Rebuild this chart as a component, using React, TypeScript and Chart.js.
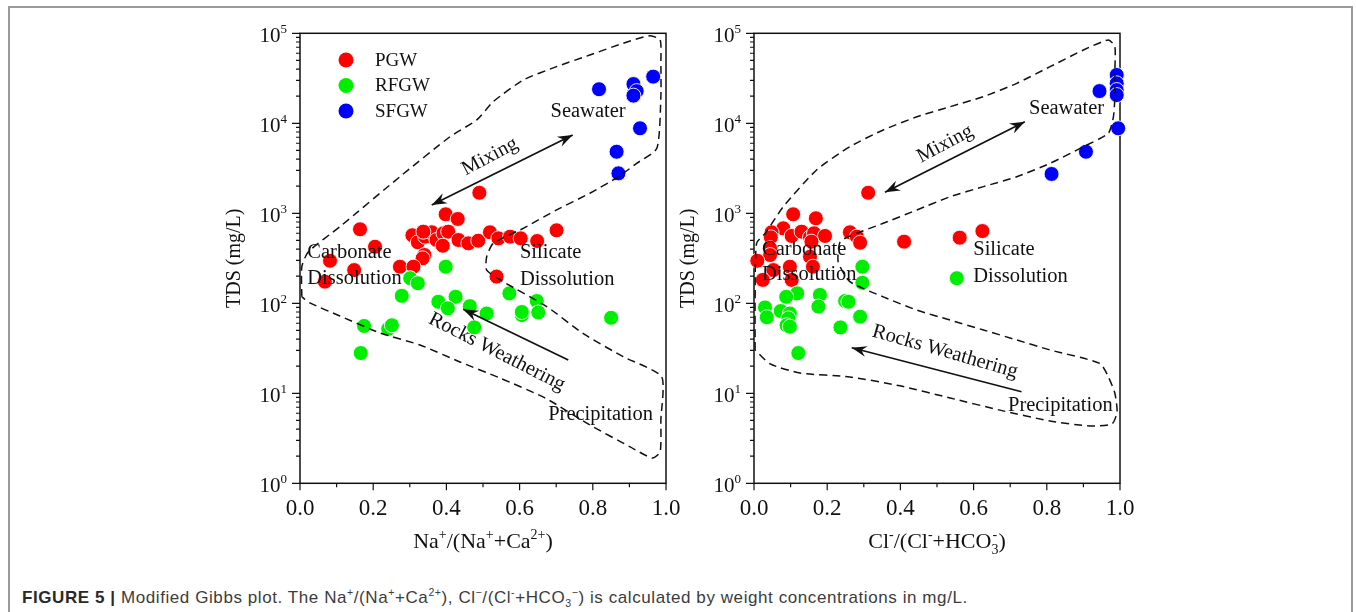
import React, { useEffect, useRef } from 'react';
import { Chart, registerables } from 'chart.js';

Chart.register(...registerables);

// ---------------- DATA ----------------
const seriesNames = ['PGW', 'RFGW', 'SFGW'];

// Left panel: Na+/(Na+ + Ca2+) vs TDS
const leftPGWx = [0.490, 0.398, 0.431, 0.164, 0.701, 0.307, 0.322, 0.342, 0.360, 0.373, 0.392, 0.405, 0.390, 0.433, 0.460, 0.487, 0.519, 0.542, 0.574, 0.603, 0.648, 0.340, 0.335, 0.273, 0.310, 0.205, 0.082, 0.148, 0.068, 0.537, 0.337];
const leftPGWy = [1690, 975, 865, 664, 647, 570, 476, 550, 615, 505, 600, 625, 436, 505, 464, 496, 615, 527, 550, 527, 492, 344, 316, 255, 255, 425, 297, 234, 174, 198, 625];
const leftRFGWx = [0.398, 0.301, 0.322, 0.278, 0.378, 0.425, 0.404, 0.464, 0.510, 0.476, 0.572, 0.647, 0.651, 0.606, 0.606, 0.850, 0.175, 0.241, 0.251, 0.166];
const leftRFGWy = [255, 190, 167, 121, 104, 118, 88, 93, 77, 54, 129, 106, 79, 74, 80, 69, 56, 52, 57, 28];
const leftSFGWx = [0.817, 0.911, 0.920, 0.911, 0.965, 0.929, 0.865, 0.870];
const leftSFGWy = [23900, 27300, 22800, 20300, 33000, 8800, 4830, 2780];

// Right panel: Cl-/(Cl- + HCO3-) vs TDS
const rightPGWx = [0.312, 0.107, 0.169, 0.624, 0.562, 0.410, 0.262, 0.281, 0.290, 0.080, 0.048, 0.046, 0.103, 0.130, 0.153, 0.164, 0.194, 0.157, 0.044, 0.044, 0.009, 0.153, 0.161, 0.098, 0.053, 0.024, 0.103];
const rightPGWy = [1690, 975, 880, 635, 536, 484, 615, 550, 471, 681, 615, 541, 560, 625, 541, 600, 560, 484, 408, 344, 297, 329, 255, 255, 234, 182, 182];
const rightRFGWx = [0.296, 0.296, 0.554, 0.118, 0.088, 0.180, 0.176, 0.249, 0.258, 0.030, 0.035, 0.073, 0.098, 0.094, 0.089, 0.098, 0.290, 0.236, 0.121];
const rightRFGWy = [255, 169, 190, 129, 118, 124, 92, 106, 104, 90, 70, 82, 77, 68, 57, 55, 71, 54, 28];
const rightSFGWx = [0.944, 0.991, 0.991, 0.991, 0.991, 0.995, 0.907, 0.813];
const rightSFGWy = [22800, 34400, 27800, 23400, 20600, 8800, 4830, 2735];

// Gibbs envelopes (dashed outlines)
const leftBoundaryX = [0.005, 0.005, 0.023, 0.109, 0.273, 0.410, 0.483, 0.528, 0.610, 0.701, 0.792, 0.883, 0.956, 0.984, 0.986, 0.986, 0.975, 0.920, 0.870, 0.792, 0.701, 0.610, 0.528, 0.510, 0.510, 0.555, 0.674, 0.774, 0.883, 0.988, 0.986, 0.984, 0.962, 0.902, 0.792, 0.669, 0.546, 0.437, 0.328, 0.219, 0.109, 0.027, 0.005];
const leftBoundaryY = [118, 255, 374, 710, 2550, 7100, 10900, 17400, 30300, 42600, 57400, 77400, 94000, 84300, 46400, 19800, 5270, 3590, 2550, 1670, 1090, 681, 464, 329, 234, 174, 92, 46, 25.5, 15.3, 5.05, 2.23, 1.91, 2.54, 4.45, 8.9, 14.8, 22.3, 34.4, 46.8, 72.3, 101, 118];
const rightBoundaryX = [0.003, 0.003, 0.007, 0.031, 0.080, 0.171, 0.262, 0.353, 0.445, 0.536, 0.627, 0.718, 0.809, 0.900, 0.968, 0.986, 0.986, 0.986, 0.982, 0.968, 0.900, 0.809, 0.718, 0.627, 0.536, 0.445, 0.353, 0.262, 0.235, 0.230, 0.262, 0.353, 0.445, 0.536, 0.627, 0.718, 0.809, 0.945, 0.968, 0.986, 0.992, 0.978, 0.918, 0.809, 0.672, 0.536, 0.399, 0.262, 0.126, 0.044, 0.003];
const rightBoundaryY = [30.3, 109, 464, 600, 1183, 3030, 5500, 8430, 11800, 15300, 19800, 27800, 42600, 65200, 84300, 71000, 39100, 19800, 11800, 7740, 5500, 3590, 2550, 1980, 1530, 1090, 774, 560, 480, 288, 174, 118, 84, 65, 50.5, 39.1, 30.3, 21.5, 15.3, 10, 6.2, 4.56, 4.33, 4.92, 6.5, 8.87, 12.1, 15.2, 16.8, 21.2, 30.3];

// Axis ticks
const xTickValues = [0, 0.2, 0.4, 0.6, 0.8, 1.0];
const xTickLabels = ['0.0', '0.2', '0.4', '0.6', '0.8', '1.0'];
const xMinorValues = [0.1, 0.3, 0.5, 0.7, 0.9];
const yTickExponents = [0, 1, 2, 3, 4, 5];
const yMinorMultipliers = [2, 3, 4, 5, 6, 7, 8, 9];

// ---------------- STYLE ----------------
const SERIF = '"Liberation Serif", "Times New Roman", Times, serif';
const SANS = '"Liberation Sans", Arial, Helvetica, sans-serif';
const seriesColors = ['#ff0000', '#00ee00', '#0000ff'];
const INK = '#111111';

type Seg = { t: string; s?: number; stack?: boolean };
type Note = { text: string; x: number; y: number; align: CanvasTextAlign; base: CanvasTextBaseline; rot: number };
type Arrow = { x1: number; y1: number; x2: number; y2: number; both: boolean };

const leftNotes: Note[] = [
  { text: 'Seawater', x: 0.787, y: 13500, align: 'center', base: 'middle', rot: 0 },
  { text: 'Mixing', x: 0.519, y: 4260, align: 'center', base: 'middle', rot: -28 },
  { text: 'Carbonate', x: 0.020, y: 315, align: 'left', base: 'alphabetic', rot: 0 },
  { text: 'Dissolution', x: 0.020, y: 162, align: 'left', base: 'alphabetic', rot: 0 },
  { text: 'Silicate', x: 0.601, y: 316, align: 'left', base: 'alphabetic', rot: 0 },
  { text: 'Dissolution', x: 0.601, y: 160, align: 'left', base: 'alphabetic', rot: 0 },
  { text: 'Rocks Weathering', x: 0.538, y: 28.8, align: 'center', base: 'middle', rot: 27 },
  { text: 'Precipitation', x: 0.678, y: 5.05, align: 'left', base: 'alphabetic', rot: 0 },
];
const rightNotes: Note[] = [
  { text: 'Seawater', x: 0.854, y: 14400, align: 'center', base: 'middle', rot: 0 },
  { text: 'Mixing', x: 0.522, y: 5890, align: 'center', base: 'middle', rot: -28 },
  { text: 'Carbonate', x: 0.022, y: 344, align: 'left', base: 'alphabetic', rot: 0 },
  { text: 'Dissolution', x: 0.022, y: 182, align: 'left', base: 'alphabetic', rot: 0 },
  { text: 'Silicate', x: 0.599, y: 344, align: 'left', base: 'alphabetic', rot: 0 },
  { text: 'Dissolution', x: 0.599, y: 174, align: 'left', base: 'alphabetic', rot: 0 },
  { text: 'Rocks Weathering', x: 0.522, y: 29, align: 'center', base: 'middle', rot: 16 },
  { text: 'Precipitation', x: 0.694, y: 6.36, align: 'left', base: 'alphabetic', rot: 0 },
];
const leftArrows: Arrow[] = [
  { x1: 0.360, y1: 1238, x2: 0.745, y2: 7410, both: true },
  { x1: 0.733, y1: 23.4, x2: 0.446, y2: 85.8, both: false },
];
const rightArrows: Arrow[] = [
  { x1: 0.358, y1: 1710, x2: 0.740, y2: 10400, both: true },
  { x1: 0.731, y1: 10.4, x2: 0.267, y2: 32.1, both: false },
];

const leftXTitle: Seg[] = [
  { t: 'Na' }, { t: '+', s: 1 }, { t: '/(Na' }, { t: '+', s: 1 }, { t: '+Ca' }, { t: '2+', s: 1 }, { t: ')' },
];
const rightXTitle: Seg[] = [
  { t: 'Cl' }, { t: '-', s: 1 }, { t: '/(Cl' }, { t: '-', s: 1 }, { t: '+HCO' }, { t: '3', s: -1 }, { t: '-', s: 1, stack: true }, { t: ')' },
];

// Layout of each canvas
const CW = 500;
const CH = 560;
const AREA_LEFT = 120;
const AREA_TOP = 18.3;
const AREA_RIGHT_PAD = 14;
const AREA_BOTTOM = 91.7;

function zip(xs: number[], ys: number[]) {
  return xs.map((x, i) => ({ x, y: ys[i] }));
}

function drawRich(ctx: CanvasRenderingContext2D, segs: Seg[], x: number, y: number, baseSize: number, supSize: number, align: 'left' | 'center' | 'right', raise: number, drop: number) {
  let cx = 0;
  let lastStart = 0;
  let lastW = 0;
  const items: { t: string; s: number; x0: number; size: number }[] = [];
  for (const sg of segs) {
    const size = sg.s ? supSize : baseSize;
    ctx.font = `${size}px ${SERIF}`;
    const w = ctx.measureText(sg.t).width;
    let x0: number;
    if (sg.stack) {
      x0 = lastStart + 1;
      cx = Math.max(lastStart + lastW, x0 + w);
    } else {
      x0 = cx;
      cx += w;
    }
    items.push({ t: sg.t, s: sg.s || 0, x0, size });
    lastStart = x0;
    lastW = w;
  }
  const total = cx;
  const start = align === 'left' ? x : align === 'center' ? x - total / 2 : x - total;
  ctx.textAlign = 'left';
  ctx.textBaseline = 'alphabetic';
  for (const it of items) {
    ctx.font = `${it.size}px ${SERIF}`;
    const dy = it.s === 1 ? -raise : it.s === -1 ? drop : 0;
    ctx.fillText(it.t, start + it.x0, y + dy);
  }
}

function arrowHead(ctx: CanvasRenderingContext2D, x1: number, y1: number, x2: number, y2: number) {
  const a = Math.atan2(y2 - y1, x2 - x1);
  const c = Math.cos(a);
  const s = Math.sin(a);
  const L = 15;
  const W = 5.5;
  const N = 10;
  ctx.beginPath();
  ctx.moveTo(x2, y2);
  ctx.lineTo(x2 - L * c + W * s, y2 - L * s - W * c);
  ctx.lineTo(x2 - N * c, y2 - N * s);
  ctx.lineTo(x2 - L * c - W * s, y2 - L * s + W * c);
  ctx.closePath();
  ctx.fill();
}

type PanelCfg = {
  notes: Note[];
  arrows: Arrow[];
  xTitle: Seg[];
  legend: boolean;
};

function makePlugin(cfg: PanelCfg) {
  return {
    id: 'panelDecor',
    beforeDatasetsDraw(chart: any) {
      const { ctx, chartArea } = chart;
      const xs = chart.scales.x;
      const ys = chart.scales.y;
      ctx.save();
      ctx.strokeStyle = INK;
      ctx.lineWidth = 1.5;
      ctx.strokeRect(chartArea.left, chartArea.top, chartArea.right - chartArea.left, chartArea.bottom - chartArea.top);
      ctx.lineWidth = 1.2;
      ctx.beginPath();
      // y ticks (outward)
      for (const e of yTickExponents) {
        const py = ys.getPixelForValue(Math.pow(10, e));
        ctx.moveTo(chartArea.left, py);
        ctx.lineTo(chartArea.left - 8, py);
        if (e < 5) {
          for (const m of yMinorMultipliers) {
            const pm = ys.getPixelForValue(m * Math.pow(10, e));
            ctx.moveTo(chartArea.left, pm);
            ctx.lineTo(chartArea.left - 4, pm);
          }
        }
      }
      // x ticks (outward)
      for (const v of xTickValues) {
        const px = xs.getPixelForValue(v);
        ctx.moveTo(px, chartArea.bottom);
        ctx.lineTo(px, chartArea.bottom + 7);
      }
      for (const v of xMinorValues) {
        const px = xs.getPixelForValue(v);
        ctx.moveTo(px, chartArea.bottom);
        ctx.lineTo(px, chartArea.bottom + 4);
      }
      ctx.stroke();
      ctx.restore();
    },
    afterDatasetsDraw(chart: any) {
      const { ctx, chartArea } = chart;
      const xs = chart.scales.x;
      const ys = chart.scales.y;
      ctx.save();
      ctx.fillStyle = INK;
      ctx.strokeStyle = INK;

      // y tick labels
      for (const e of yTickExponents) {
        const py = ys.getPixelForValue(Math.pow(10, e));
        drawRich(ctx, [{ t: '10' }, { t: String(e), s: 1 }], chartArea.left - 13, py + 8.5, 21, 13, 'right', 9.2, 0);
      }
      // x tick labels
      ctx.font = `23px ${SERIF}`;
      ctx.textAlign = 'center';
      ctx.textBaseline = 'alphabetic';
      xTickValues.forEach((v, i) => {
        ctx.fillText(xTickLabels[i], xs.getPixelForValue(v), chartArea.bottom + 31.7);
      });
      // x title
      drawRich(ctx, cfg.xTitle, (chartArea.left + chartArea.right) / 2, chartArea.bottom + 64.5, 22, 14, 'center', 9, 6);
      // y title
      ctx.save();
      ctx.translate(chartArea.left - 65, (chartArea.top + chartArea.bottom) / 2);
      ctx.rotate(-Math.PI / 2);
      ctx.font = `20px ${SERIF}`;
      ctx.textAlign = 'center';
      ctx.textBaseline = 'middle';
      ctx.fillText('TDS (mg/L)', 0, 0);
      ctx.restore();

      // arrows
      ctx.lineWidth = 1.7;
      for (const a of cfg.arrows) {
        const x1 = xs.getPixelForValue(a.x1);
        const y1 = ys.getPixelForValue(a.y1);
        const x2 = xs.getPixelForValue(a.x2);
        const y2 = ys.getPixelForValue(a.y2);
        ctx.beginPath();
        ctx.moveTo(x1, y1);
        ctx.lineTo(x2, y2);
        ctx.stroke();
        arrowHead(ctx, x1, y1, x2, y2);
        if (a.both) arrowHead(ctx, x2, y2, x1, y1);
      }

      // annotations
      ctx.font = `20.5px ${SERIF}`;
      for (const n of cfg.notes) {
        const px = xs.getPixelForValue(n.x);
        const py = ys.getPixelForValue(n.y);
        ctx.save();
        ctx.translate(px, py);
        ctx.rotate((n.rot * Math.PI) / 180);
        ctx.textAlign = n.align;
        ctx.textBaseline = n.base;
        ctx.fillText(n.text, 0, 0);
        ctx.restore();
      }

      // legend
      if (cfg.legend) {
        const rowY = [60, 85.5, 111];
        seriesNames.forEach((name, i) => {
          const cy = chartArea.top + rowY[i] - 33.3;
          const cx = chartArea.left + 46;
          ctx.beginPath();
          ctx.arc(cx, cy, 7.5, 0, Math.PI * 2);
          ctx.fillStyle = seriesColors[i];
          ctx.fill();
          ctx.fillStyle = INK;
          ctx.font = `19px ${SERIF}`;
          ctx.textAlign = 'left';
          ctx.textBaseline = 'middle';
          ctx.fillText(name, chartArea.left + 75, cy + 1);
        });
      }
      ctx.restore();
    },
  };
}

function buildDatasets(px: number[][], py: number[][], bx: number[], by: number[]) {
  const pts = seriesNames.map((name, i) => ({
    type: 'scatter' as const,
    label: name,
    data: zip(px[i], py[i]),
    backgroundColor: seriesColors[i],
    borderColor: '#ffffff',
    borderWidth: 0.9,
    pointRadius: 7.5,
    clip: false as any,
    order: 3 - i,
  }));
  const outline = {
    type: 'scatter' as const,
    label: 'boundary',
    data: zip(bx, by),
    showLine: true,
    borderColor: INK,
    borderWidth: 1.5,
    borderDash: [8, 5],
    pointRadius: 0,
    tension: 0.2,
    fill: false,
    clip: false as any,
    order: 0,
  };
  return [...pts, outline];
}

function Panel(props: { left: number; datasets: any[]; cfg: PanelCfg }) {
  const ref = useRef<HTMLCanvasElement>(null);
  useEffect(() => {
    if (!ref.current) return;
    const chart = new Chart(ref.current, {
      type: 'scatter',
      data: { datasets: props.datasets },
      options: {
        animation: false,
        responsive: false,
        devicePixelRatio: 1,
        events: [],
        layout: { padding: { left: 0, top: AREA_TOP, right: AREA_RIGHT_PAD, bottom: 0 } },
        plugins: { legend: { display: false }, tooltip: { enabled: false } },
        scales: {
          x: {
            type: 'linear',
            min: 0,
            max: 1,
            ticks: { display: false },
            grid: { display: false },
            border: { display: false },
            afterFit: (s: any) => {
              s.height = AREA_BOTTOM;
              s.paddingLeft = 0;
              s.paddingRight = 0;
            },
          },
          y: {
            type: 'logarithmic',
            min: 1,
            max: 100000,
            ticks: { display: false },
            grid: { display: false },
            border: { display: false },
            afterFit: (s: any) => {
              s.width = AREA_LEFT;
              s.paddingTop = 0;
              s.paddingBottom = 0;
            },
          },
        },
      } as any,
      plugins: [makePlugin(props.cfg)],
    });
    return () => chart.destroy();
  }, []);
  return (
    <canvas
      ref={ref}
      width={CW}
      height={CH}
      style={{ position: 'absolute', left: props.left, top: 15, width: CW, height: CH }}
    />
  );
}

export default function App() {
  const leftSets = buildDatasets(
    [leftPGWx, leftRFGWx, leftSFGWx],
    [leftPGWy, leftRFGWy, leftSFGWy],
    leftBoundaryX,
    leftBoundaryY,
  );
  const rightSets = buildDatasets(
    [rightPGWx, rightRFGWx, rightSFGWx],
    [rightPGWy, rightRFGWy, rightSFGWy],
    rightBoundaryX,
    rightBoundaryY,
  );
  const supStyle: React.CSSProperties = { fontSize: '0.62em', verticalAlign: 'super', lineHeight: 0 };
  const subStyle: React.CSSProperties = { fontSize: '0.62em', verticalAlign: 'sub', lineHeight: 0 };
  return (
    <div style={{ position: 'absolute', left: 0, top: 0, width: 1356, height: 612, overflow: 'hidden', background: '#fff' }}>
      <div
        style={{
          position: 'absolute',
          left: 8,
          top: 6,
          width: 1345,
          height: 640,
          boxSizing: 'border-box',
          borderTop: '2px solid #9a9a9a',
          borderLeft: '2px solid #9a9a9a',
          borderRight: '2px solid #9a9a9a',
        }}
      />
      <Panel left={180} datasets={leftSets} cfg={{ notes: leftNotes, arrows: leftArrows, xTitle: leftXTitle, legend: true }} />
      <Panel left={634} datasets={rightSets} cfg={{ notes: rightNotes, arrows: rightArrows, xTitle: rightXTitle, legend: false }} />
      <div
        style={{
          position: 'absolute',
          left: 22,
          top: 589,
          fontFamily: SANS,
          fontSize: 17,
          letterSpacing: '0.58px',
          lineHeight: '18px',
          color: '#3c3c3c',
          whiteSpace: 'nowrap',
        }}
      >
        <b style={{ color: '#2a2a2a' }}>FIGURE 5 |</b> Modified Gibbs plot. The Na<span style={supStyle}>+</span>/(Na
        <span style={supStyle}>+</span>+Ca<span style={supStyle}>2+</span>), Cl<span style={supStyle}>−</span>/(Cl
        <span style={supStyle}>-</span>+HCO<span style={subStyle}>3</span>
        <span style={supStyle}>−</span>) is calculated by weight concentrations in mg/L.
      </div>
    </div>
  );
}
